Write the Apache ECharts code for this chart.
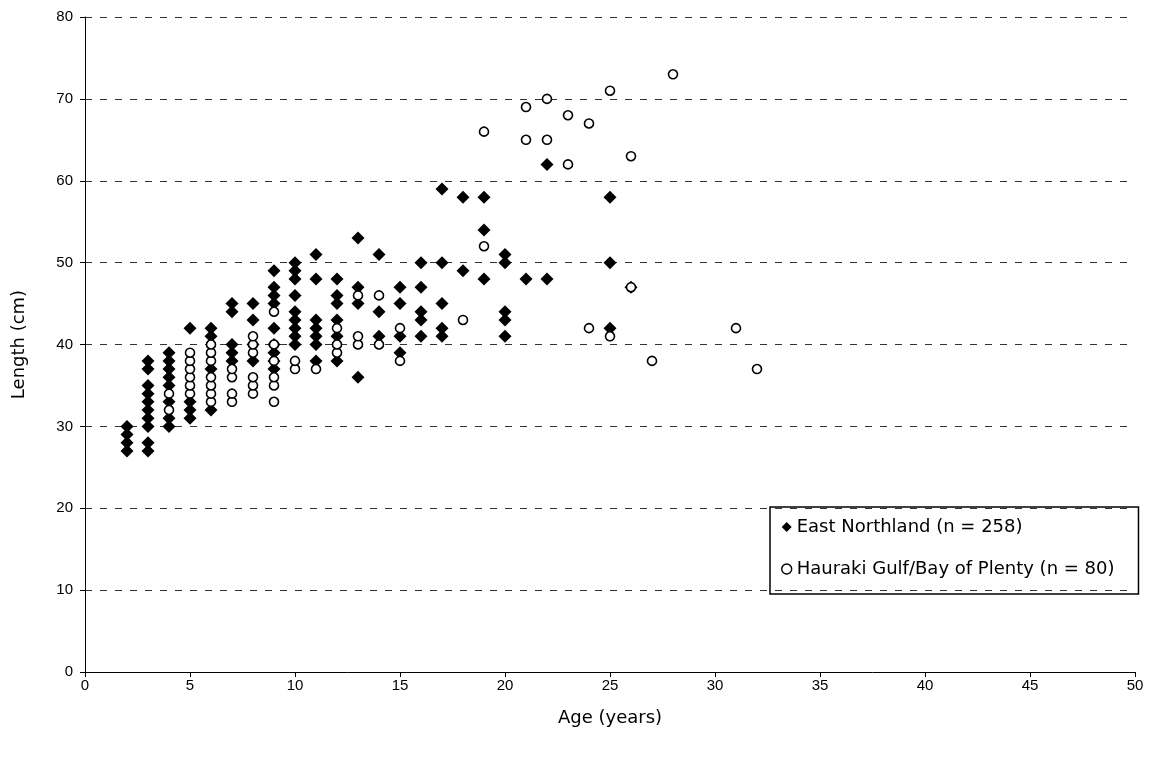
<!DOCTYPE html>
<html>
<head>
<meta charset="utf-8">
<script src="https://cdn.jsdelivr.net/npm/echarts@6/dist/echarts.min.js"></script>
<style>
	html, body { margin: 0; padding: 0; background: #fff; }
	#chart { width: 1156px; height: 760px; }
</style>
</head>
<body>
<div id="chart"></div>
<script>
// 数据: [年龄, 长度]
var eastNorthland = [
	[2, 27], [2, 28], [2, 29], [2, 30],
	[3, 27], [3, 28], [3, 30], [3, 31], [3, 32], [3, 33], [3, 34], [3, 35], [3, 37], [3, 38],
	[4, 30], [4, 31], [4, 33], [4, 35], [4, 36], [4, 37], [4, 38], [4, 39],
	[5, 31], [5, 32], [5, 33], [5, 42],
	[6, 32], [6, 37], [6, 41], [6, 42],
	[7, 38], [7, 39], [7, 40], [7, 44], [7, 45],
	[8, 38], [8, 40], [8, 43], [8, 45],
	[9, 37], [9, 38], [9, 39], [9, 40], [9, 42], [9, 45], [9, 46], [9, 47], [9, 49],
	[10, 40], [10, 41], [10, 42], [10, 43], [10, 44], [10, 46], [10, 48], [10, 49], [10, 50],
	[11, 38], [11, 40], [11, 41], [11, 42], [11, 43], [11, 48], [11, 51],
	[12, 38], [12, 41], [12, 43], [12, 45], [12, 46], [12, 48],
	[13, 36], [13, 45], [13, 47], [13, 53],
	[14, 41], [14, 44], [14, 51],
	[15, 39], [15, 41], [15, 45], [15, 47],
	[16, 41], [16, 43], [16, 44], [16, 47], [16, 50],
	[17, 41], [17, 42], [17, 45], [17, 50], [17, 59],
	[18, 49], [18, 58],
	[19, 48], [19, 54], [19, 58],
	[20, 41], [20, 43], [20, 44], [20, 50], [20, 51],
	[21, 48],
	[22, 48], [22, 62],
	[25, 42], [25, 50], [25, 58],
	[26, 47]
];
var haurakiGulf = [
	[4, 32], [4, 34],
	[5, 34], [5, 35], [5, 36], [5, 37], [5, 38], [5, 39],
	[6, 33], [6, 34], [6, 35], [6, 36], [6, 38], [6, 39], [6, 40],
	[7, 33], [7, 34], [7, 36], [7, 37],
	[8, 34], [8, 35], [8, 36], [8, 39], [8, 40], [8, 41],
	[9, 33], [9, 35], [9, 36], [9, 38], [9, 40], [9, 44],
	[10, 37], [10, 38],
	[11, 37],
	[12, 39], [12, 40], [12, 42],
	[13, 40], [13, 41], [13, 46],
	[14, 40], [14, 46],
	[15, 38], [15, 42],
	[18, 43],
	[19, 52], [19, 66],
	[21, 65], [21, 69],
	[22, 65], [22, 70],
	[23, 62], [23, 68],
	[24, 42], [24, 67],
	[25, 41], [25, 71],
	[26, 47], [26, 63],
	[27, 38],
	[28, 73],
	[31, 42],
	[32, 37]
];
var seriesNames = ['East Northland (n = 258)', 'Hauraki Gulf/Bay of Plenty (n = 80)'];

var myChart = echarts.init(document.getElementById('chart'));

var fontFamily = '"Liberation Sans", Arial, sans-serif';
var titleFont = '"DejaVu Sans", "Liberation Sans", sans-serif'; // 标题和图例用宽一点的字体

var option = {
	animation : false,
	backgroundColor : '#ffffff',
	textStyle : {
		fontFamily : fontFamily
	},
	grid : {
		left : 85,
		right : 21,
		top : 17,
		bottom : 88
	},
	legend : {
		orient : 'vertical',
		left : 770,
		top : 507,
		padding : [ 8, 24, 13, 11 ],
		itemGap : 18,
		itemWidth : 10,
		itemHeight : 10,
		borderColor : '#000',
		borderWidth : 1.5,
		borderRadius : 0,
		data : [ {
			name : seriesNames[0],
			icon : 'diamond',
			itemStyle : {
				color : '#000',
				opacity : 1
			}
		}, {
			name : seriesNames[1],
			icon : 'circle',
			itemStyle : {
				color : '#fff',
				borderColor : '#000',
				borderWidth : 1.4,
				opacity : 1
			}
		} ],
		textStyle : {
			fontFamily : titleFont,
			fontSize : 18,
			lineHeight : 24,
			color : '#000'
		}
	},
	xAxis : {
		type : 'value',
		min : 0,
		max : 50,
		interval : 5,
		name : 'Age (years)',
		nameLocation : 'middle',
		nameGap : 37,
		nameTextStyle : {
			fontFamily : titleFont,
			fontSize : 18,
			color : '#000'
		},
		axisLine : {
			lineStyle : {
				color : '#000',
				width : 1
			}
		},
		axisTick : {
			show : true,
			length : 5,
			lineStyle : {
				color : '#000'
			}
		},
		axisLabel : {
			margin : 6,
			fontFamily : fontFamily,
			fontSize : 15,
			color : '#000'
		},
		splitLine : {
			show : false
		}
	},
	yAxis : {
		type : 'value',
		min : 0,
		max : 80,
		interval : 10,
		name : 'Length (cm)',
		nameLocation : 'middle',
		nameGap : 57,
		nameTextStyle : {
			fontFamily : titleFont,
			fontSize : 18,
			color : '#000'
		},
		axisLine : {
			show : true,
			lineStyle : {
				color : '#000',
				width : 1
			}
		},
		axisTick : {
			show : true,
			length : 5,
			lineStyle : {
				color : '#000'
			}
		},
		axisLabel : {
			margin : 12,
			fontFamily : fontFamily,
			fontSize : 15,
			color : '#000'
		},
		splitLine : {
			show : true,
			lineStyle : {
				color : '#333',
				width : 1,
				type : [ 7, 8 ]
			}
		}
	},
	series : [ {
		name : seriesNames[0],
		type : 'scatter',
		symbol : 'diamond',
		symbolSize : 13,
		itemStyle : {
			color : '#000',
			opacity : 1
		},
		data : eastNorthland
	}, {
		name : seriesNames[1],
		type : 'scatter',
		symbol : 'circle',
		symbolSize : 9,
		itemStyle : {
			color : '#fff',
			borderColor : '#000',
			borderWidth : 1.6,
			opacity : 1
		},
		data : haurakiGulf
	} ]
};

myChart.setOption(option);
</script>
</body>
</html>
